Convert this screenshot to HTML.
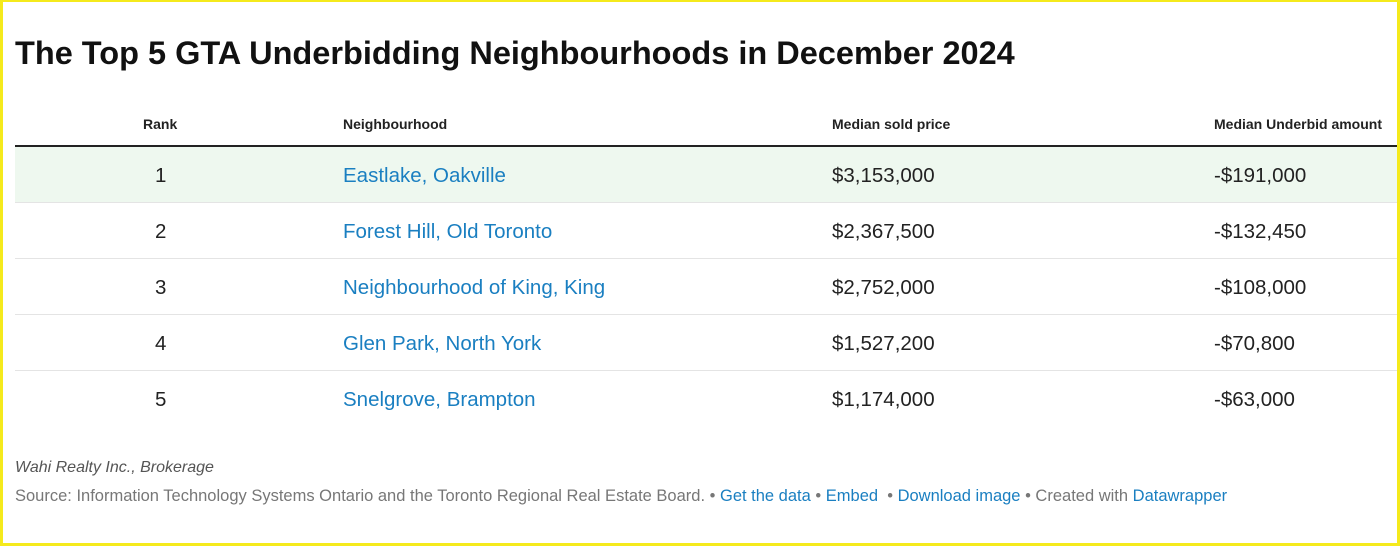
<!DOCTYPE html>
<html><head><meta charset="utf-8"><style>
*{margin:0;padding:0;box-sizing:border-box}
body{width:1400px;height:546px;background:#fff;font-family:"Liberation Sans",sans-serif;overflow:hidden}
#frame{position:absolute;left:0;top:0;width:1400px;height:546px;border:3px solid #f5ea1c;border-top-width:2px}
.abs{position:absolute;white-space:nowrap}
h1{position:absolute;left:15px;top:35px;font-size:32.5px;font-weight:bold;color:#111;letter-spacing:0;white-space:nowrap}
.th{font-size:14px;font-weight:bold;color:#222;top:116px}
.row{position:absolute;left:15px;width:1382px;height:56px;border-bottom:1px solid #e4e4e4}
.cell{position:absolute;top:1px;line-height:56px;font-size:20.5px;color:#222;white-space:nowrap}
.link{color:#1a7fc1}
</style></head><body>
<div id="frame"></div>
<h1>The Top 5 GTA Underbidding Neighbourhoods in December 2024</h1>
<div class="abs th" style="left:143px">Rank</div>
<div class="abs th" style="left:343px">Neighbourhood</div>
<div class="abs th" style="left:832px">Median sold price</div>
<div class="abs th" style="left:1214px">Median Underbid amount</div>
<div class="abs" style="left:15px;top:145px;width:1382px;height:2px;background:#222"></div>
<div id="rows"></div>
<div class="abs" style="left:15px;top:459px;font-size:16px;font-style:italic;color:#555">Wahi Realty Inc., Brokerage</div>
<div class="abs" style="left:15px;top:487px;font-size:16.5px;color:#777">Source: Information Technology Systems Ontario and the Toronto Regional Real Estate Board. • <span class="link">Get the data</span> • <span class="link">Embed</span>&nbsp; • <span class="link">Download image</span> • Created with <span class="link">Datawrapper</span></div>
<script>
const ranks=["1","2","3","4","5"];
const hoods=["Eastlake, Oakville","Forest Hill, Old Toronto","Neighbourhood of King, King","Glen Park, North York","Snelgrove, Brampton"];
const prices=["$3,153,000","$2,367,500","$2,752,000","$1,527,200","$1,174,000"];
const underbids=["-$191,000","-$132,450","-$108,000","-$70,800","-$63,000"];
const wrap=document.getElementById('rows');
ranks.forEach((r,i)=>{
  const row=document.createElement('div');
  row.className='row';
  row.style.top=(147+i*56)+'px';
  if(i===0)row.style.background='#eef8ef';
  if(i===ranks.length-1)row.style.borderBottom='none';
  
  
  const cells=[[r,140,'rank-cell',''],[hoods[i],328,'neighbourhood-link','link'],[prices[i],817,'price-cell',''],[underbids[i],1199,'underbid-cell','']];
  cells.forEach(c=>{
    const d=document.createElement('div');
    d.className='cell '+c[3];
    d.style.left=c[1]+'px';
    if(c[2]==='rank-cell'){d.style.width='10px';d.style.textAlign='center';}
    d.textContent=c[0];
    
    
    row.appendChild(d);
  });
  wrap.appendChild(row);
});
</script>
</body></html>
